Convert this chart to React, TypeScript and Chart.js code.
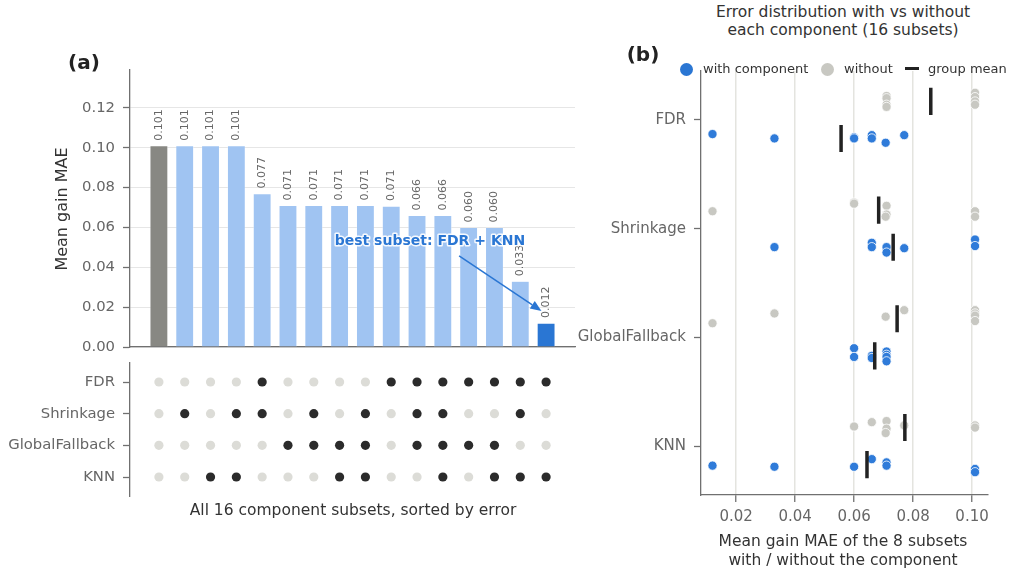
import React, { useEffect, useRef } from "react";
import { Chart, registerables } from "chart.js";
Chart.register(...registerables);

// ---------- DATA ----------
const components = ["FDR", "Shrinkage", "GlobalFallback", "KNN"];
// mean gain MAE of each of the 16 subsets, sorted by error (descending)
const subsetValues = [0.101, 0.101, 0.101, 0.101, 0.077, 0.071, 0.071, 0.071, 0.071, 0.0707, 0.066, 0.066, 0.060, 0.060, 0.033, 0.012];
const valueLabels = ["0.101", "0.101", "0.101", "0.101", "0.077", "0.071", "0.071", "0.071", "0.071", "0.071", "0.066", "0.066", "0.060", "0.060", "0.033", "0.012"];
// membership matrix (1 = component included in subset)
const fdrIn = [0, 0, 0, 0, 1, 0, 0, 0, 0, 1, 1, 1, 1, 1, 1, 1];
const shrinkageIn = [0, 1, 0, 1, 1, 0, 1, 0, 1, 0, 1, 1, 0, 0, 1, 0];
const globalFallbackIn = [0, 0, 0, 0, 0, 1, 1, 1, 1, 0, 1, 1, 1, 1, 0, 0];
const knnIn = [0, 0, 1, 1, 0, 0, 0, 1, 1, 0, 0, 1, 0, 1, 1, 1];
// vertical strip offsets of each subset's point in panel (b)
const fdrJitter = [-0.25, -0.21, -0.17, -0.14, 0.14, -0.22, -0.2, -0.14, -0.12, 0.21, 0.14, 0.17, 0.16, 0.17, 0.17, 0.13];
const shrinkageJitter = [-0.16, 0.1, -0.11, 0.16, 0.18, -0.21, 0.17, -0.13, 0.22, -0.11, 0.13, 0.17, -0.24, -0.23, 0.17, -0.16];
const globalFallbackJitter = [-0.25, -0.22, -0.2, -0.15, -0.25, 0.13, 0.16, 0.18, 0.22, -0.19, 0.17, 0.19, 0.1, 0.18, -0.22, -0.13];
const knnJitter = [-0.19, -0.17, 0.21, 0.24, -0.19, -0.23, -0.16, 0.15, 0.18, -0.12, -0.22, 0.12, -0.18, 0.19, 0.19, 0.18];
const barTicks = [0, 0.02, 0.04, 0.06, 0.08, 0.1, 0.12];
const stripTicks = [0.02, 0.04, 0.06, 0.08, 0.1];
const annotationText = "best subset: FDR + KNN";
const annotationTextAt = [10.5, 0.0528];
const annotationArrowFrom = [11.63, 0.0457];
const annotationArrowTo = [14.82, 0.0181];

const membership = [fdrIn, shrinkageIn, globalFallbackIn, knnIn];
const jitters = [fdrJitter, shrinkageJitter, globalFallbackJitter, knnJitter];

// ---------- STYLE ----------
const FONT = "'DejaVu Sans', sans-serif";
const BLUE = "#2a76d3";
const LIGHT_BLUE = "#a0c4f2";
const BASE_GRAY = "#888883";
const WITHOUT_GRAY = "#c8c8c2";
const SPINE = "#707070";
const TICK_TEXT = "#666666";

const bestIndex = subsetValues.length - 1;

const noPad = (s: any) => { s.paddingTop = 0; s.paddingBottom = 0; s.paddingLeft = 0; s.paddingRight = 0; };
const fixWidth = (w: number) => (s: any) => { s.width = w; noPad(s); };
const fixHeight = (h: number) => (s: any) => { s.height = h; noPad(s); };

function BarChart() {
  const ref = useRef<HTMLCanvasElement>(null);
  useEffect(() => {
    const labelPlugin = {
      id: "barLabels",
      afterDatasetsDraw(chart: any) {
        const ctx = chart.ctx;
        const meta = chart.getDatasetMeta(0);
        ctx.save();
        ctx.font = `11px ${FONT}`;
        ctx.fillStyle = TICK_TEXT;
        ctx.textAlign = "left";
        ctx.textBaseline = "middle";
        meta.data.forEach((bar: any, i: number) => {
          ctx.save();
          ctx.translate(bar.x, bar.y - 5);
          ctx.rotate(-Math.PI / 2);
          ctx.fillText(valueLabels[i], 0, 0);
          ctx.restore();
        });
        // annotation
        const xs = chart.scales.x, ys = chart.scales.y;
        const x1 = xs.getPixelForValue(annotationArrowFrom[0]);
        const y1 = ys.getPixelForValue(annotationArrowFrom[1]);
        const x2 = xs.getPixelForValue(annotationArrowTo[0]);
        const y2 = ys.getPixelForValue(annotationArrowTo[1]);
        const ang = Math.atan2(y2 - y1, x2 - x1);
        const hl = 11, hw = 4.5;
        const bx = x2 - hl * Math.cos(ang), by = y2 - hl * Math.sin(ang);
        ctx.strokeStyle = BLUE;
        ctx.fillStyle = BLUE;
        ctx.lineWidth = 1.5;
        ctx.beginPath();
        ctx.moveTo(x1, y1);
        ctx.lineTo(bx, by);
        ctx.stroke();
        ctx.beginPath();
        ctx.moveTo(x2, y2);
        ctx.lineTo(bx + hw * Math.sin(ang), by - hw * Math.cos(ang));
        ctx.lineTo(bx - hw * Math.sin(ang), by + hw * Math.cos(ang));
        ctx.closePath();
        ctx.fill();
        const tx = xs.getPixelForValue(annotationTextAt[0]);
        const ty = ys.getPixelForValue(annotationTextAt[1]);
        ctx.font = `bold 14px ${FONT}`;
        ctx.textAlign = "center";
        ctx.textBaseline = "middle";
        ctx.lineWidth = 3;
        ctx.strokeStyle = "rgba(255,255,255,0.9)";
        ctx.lineJoin = "round";
        ctx.strokeText(annotationText, tx, ty);
        ctx.fillStyle = BLUE;
        ctx.fillText(annotationText, tx, ty);
        ctx.restore();
      },
    };
    const chart = new Chart(ref.current!, {
      type: "bar",
      data: {
        datasets: [
          {
            data: subsetValues.map((v, i) => ({ x: i, y: v })),
            backgroundColor: subsetValues.map((_, i) => (i === 0 ? BASE_GRAY : i === bestIndex ? BLUE : LIGHT_BLUE)),
            borderColor: "rgba(255,255,255,0.6)",
            borderWidth: 0.6,
            categoryPercentage: 1,
            barPercentage: 0.7,
          },
        ],
      },
      options: {
        animation: false,
        responsive: false,
        layout: { padding: { top: 70, right: 15, left: 0, bottom: 0 } },
        plugins: { legend: { display: false }, tooltip: { enabled: false } },
        scales: {
          x: {
            type: "linear",
            offset: false,
            min: -1.12,
            max: 16.12,
            afterFit: fixHeight(13),
            ticks: { display: false },
            grid: { display: false },
            border: { display: true, color: SPINE, width: 1.3 },
          },
          y: {
            min: 0,
            max: 0.139,
            afterFit: fixWidth(130),
            afterBuildTicks: (s: any) => { s.ticks = barTicks.map((v) => ({ value: v })); },
            ticks: {
              callback: (v: any) => Number(v).toFixed(2),
              font: { family: FONT, size: 14.8 },
              color: TICK_TEXT,
              padding: 8,
            },
            grid: { color: "#e6e6e6", lineWidth: 1, tickColor: SPINE, tickLength: 7, tickWidth: 1.3 },
            border: { display: true, color: SPINE, width: 1.3 },
          },
        },
      },
      plugins: [labelPlugin],
    } as any);
    return () => chart.destroy();
  }, []);
  return <canvas ref={ref} width={590} height={360} style={{ position: "absolute", left: 0, top: 0 }} />;
}

function MatrixChart() {
  const ref = useRef<HTMLCanvasElement>(null);
  useEffect(() => {
    const on: any[] = [], off: any[] = [];
    membership.forEach((row, ci) => {
      row.forEach((m, j) => {
        (m ? on : off).push({ x: j, y: ci });
      });
    });
    const chart = new Chart(ref.current!, {
      type: "scatter",
      data: {
        datasets: [
          { data: on, pointRadius: 4.6, backgroundColor: "#2b2b2b", borderWidth: 0 },
          { data: off, pointRadius: 4.6, backgroundColor: "#dcdcd7", borderWidth: 0 },
        ],
      },
      options: {
        animation: false,
        responsive: false,
        layout: { padding: { top: 8, right: 15, left: 0, bottom: 9 } },
        plugins: { legend: { display: false }, tooltip: { enabled: false } },
        scales: {
          x: { type: "linear", min: -1.12, max: 16.12, display: false },
          y: {
            type: "linear",
            reverse: true,
            min: -0.6,
            max: 3.6,
            afterFit: fixWidth(130),
            afterBuildTicks: (s: any) => { s.ticks = components.map((_, i) => ({ value: i })); },
            ticks: {
              callback: (v: any) => components[v] ?? "",
              font: { family: FONT, size: 14.8 },
              color: TICK_TEXT,
              padding: 8,
            },
            grid: { drawOnChartArea: false, tickColor: SPINE, tickLength: 7, tickWidth: 1.3 },
            border: { display: true, color: SPINE, width: 1.3 },
          },
        },
      },
    } as any);
    return () => chart.destroy();
  }, []);
  return <canvas ref={ref} width={590} height={150} style={{ position: "absolute", left: 0, top: 355 }} />;
}

function StripChart() {
  const ref = useRef<HTMLCanvasElement>(null);
  useEffect(() => {
    const withPts: any[] = [], withoutPts: any[] = [];
    const meanSets: any[] = [];
    membership.forEach((row, ci) => {
      const wv: number[] = [], wo: number[] = [];
      row.forEach((m, j) => {
        const p = { x: subsetValues[j], y: ci + jitters[ci][j] };
        if (m) { withPts.push(p); wv.push(subsetValues[j]); } else { withoutPts.push(p); wo.push(subsetValues[j]); }
      });
      const mw = wv.reduce((a, b) => a + b, 0) / wv.length;
      const mo = wo.reduce((a, b) => a + b, 0) / wo.length;
      const mk = (m: number, a: number, b: number) => ({
        data: [{ x: m, y: ci + a }, { x: m, y: ci + b }],
        showLine: true,
        borderColor: "#222222",
        borderWidth: 3.5,
        borderCapStyle: "butt",
        pointRadius: 0,
        order: 0,
      });
      meanSets.push(mk(mw, 0.046, 0.296));
      meanSets.push(mk(mo, -0.296, -0.046));
    });
    const chart = new Chart(ref.current!, {
      type: "scatter",
      data: {
        datasets: [
          { data: withoutPts, pointRadius: 4.6, backgroundColor: WITHOUT_GRAY, borderColor: "#ffffff", borderWidth: 0.8, order: 2 },
          { data: withPts, pointRadius: 4.6, backgroundColor: "#2f7bd9", borderColor: "#ffffff", borderWidth: 0.8, order: 1 },
          ...meanSets,
        ],
      },
      options: {
        animation: false,
        responsive: false,
        layout: { padding: { top: 11, right: 12, left: 0, bottom: 0 } },
        plugins: { legend: { display: false }, tooltip: { enabled: false } },
        scales: {
          x: {
            type: "linear",
            min: 0.0081,
            max: 0.1054,
            afterFit: fixHeight(45),
            afterBuildTicks: (s: any) => { s.ticks = stripTicks.map((v) => ({ value: v })); },
            ticks: {
              callback: (v: any) => Number(v).toFixed(2),
              font: { family: FONT, size: 15 },
              color: TICK_TEXT,
              padding: 6,
            },
            grid: { color: "#e4e4df", lineWidth: 1.5, tickColor: SPINE, tickLength: 7, tickWidth: 1.3 },
            border: { display: true, color: SPINE, width: 1.3 },
          },
          y: {
            type: "linear",
            reverse: true,
            min: -0.45,
            max: 3.45,
            afterFit: fixWidth(141),
            afterBuildTicks: (s: any) => { s.ticks = components.map((_, i) => ({ value: i })); },
            ticks: {
              callback: (v: any) => components[v] ?? "",
              font: { family: FONT, size: 15 },
              color: TICK_TEXT,
              padding: 8,
            },
            grid: { drawOnChartArea: false, tickColor: SPINE, tickLength: 7, tickWidth: 1.3 },
            border: { display: true, color: SPINE, width: 1.3 },
          },
        },
      },
    } as any);
    return () => chart.destroy();
  }, []);
  return <canvas ref={ref} width={440} height={480} style={{ position: "absolute", left: 560, top: 60 }} />;
}

const T = (props: { x: number; y: number; size: number; bold?: boolean; color?: string; rotate?: boolean; align?: string; children: any }) => (
  <div
    style={{
      position: "absolute",
      left: props.x,
      top: props.y,
      transform: `translate(${props.align === "left" ? "0" : "-50%"}, -50%)${props.rotate ? " rotate(-90deg)" : ""}`,
      fontFamily: FONT,
      fontSize: props.size,
      fontWeight: props.bold ? "bold" : "normal",
      color: props.color || "#333333",
      whiteSpace: "nowrap",
      lineHeight: 1,
    }}
  >
    {props.children}
  </div>
);

export default function App() {
  return (
    <div style={{ position: "absolute", left: 0, top: 0, width: 1009, height: 574, background: "#ffffff", overflow: "hidden" }}>
      <BarChart />
      <MatrixChart />
      <StripChart />
      <T x={84} y={62} size={20} bold color="#222222">(a)</T>
      <T x={62} y={209} size={16} rotate>Mean gain MAE</T>
      <T x={353} y={511} size={15.5}>All 16 component subsets, sorted by error</T>
      <T x={843} y={13} size={15.5}>Error distribution with vs without</T>
      <T x={843} y={31} size={15.5}>each component (16 subsets)</T>
      <T x={643} y={54} size={20} bold color="#222222">(b)</T>
      <div style={{ position: "absolute", left: 679.5, top: 62.5, width: 13, height: 13, borderRadius: "50%", background: BLUE }} />
      <T x={703} y={68} size={13} align="left">with component</T>
      <div style={{ position: "absolute", left: 820.5, top: 62.5, width: 13, height: 13, borderRadius: "50%", background: WITHOUT_GRAY }} />
      <T x={844} y={68} size={13} align="left">without</T>
      <div style={{ position: "absolute", left: 905, top: 67, width: 14, height: 3, background: "#222222" }} />
      <T x={928} y={68} size={13} align="left">group mean</T>
      <T x={843} y={542} size={15.5}>Mean gain MAE of the 8 subsets</T>
      <T x={843} y={561} size={15.5}>with / without the component</T>
    </div>
  );
}
